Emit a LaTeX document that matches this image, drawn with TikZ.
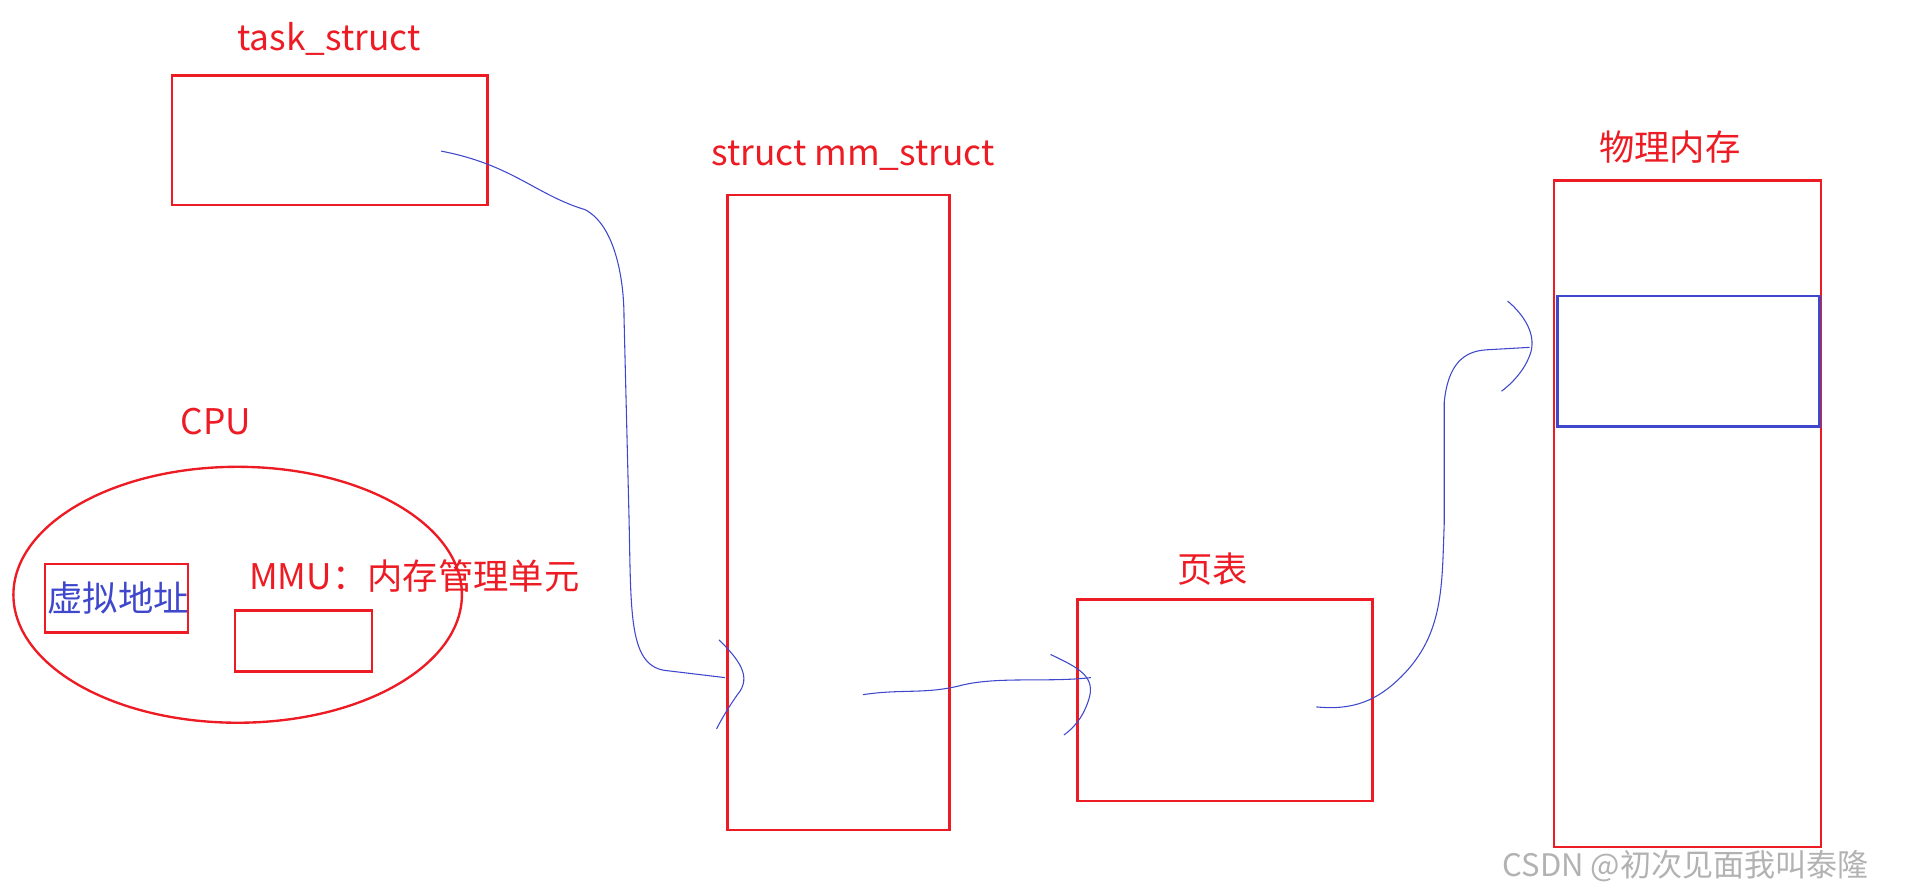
\documentclass[tikz,border=0pt]{standalone}
\usepackage{fontspec}
\setmainfont{Noto Sans CJK SC}
\definecolor{rd}{RGB}{237,28,36}
\definecolor{bl}{RGB}{63,72,204}
\begin{document}
\begin{tikzpicture}[x=0.02cm,y=-0.02cm,
  lbl/.style={text=rd,font=\fontsize{16.5}{18}\selectfont,inner sep=0},
  rbox/.style={draw=rd,line width=1.1pt},
  wire/.style={draw=bl,line width=0.5pt}]
\useasboundingbox (0,0) rectangle (1568,735);
\node[lbl] at (270,32) {task\_struct};
\draw[rbox] (141,62) rectangle (400,168);
\node[lbl] at (700,128) {struct mm\_struct};
\draw[rbox] (597,160) rectangle (779,681);
\node[lbl] at (1370,121) {物理内存};
\draw[rbox] (1275,148) rectangle (1494,695);
\draw[draw=bl,line width=1.1pt] (1278,243) rectangle (1493,350);
\node[lbl] at (177,346) {CPU};
\draw[rbox] (195,488) ellipse [x radius=184, y radius=105];
\draw[rbox] (37,463) rectangle (154,519);
\node[lbl,text=bl] at (97,491) {虚拟地址};
\node[lbl] at (340,473) {MMU：内存管理单元};
\draw[rbox] (193,501) rectangle (305,551);
\node[lbl] at (995,467) {页表};
\draw[rbox] (884,492) rectangle (1126,657);
\node[text=gray!60,font=\fontsize{14.5}{16}\selectfont,inner sep=0] at (1383,711) {CSDN @初次见面我叫泰隆};
\draw[wire] (362,124) .. controls (420,135) and (440,160) .. (480,172) .. controls (505,185) and (512,230) .. (512,260) -- (516,420) .. controls (518,500) and (515,545) .. (545,550) -- (595,556);
\draw[wire] (590,525) .. controls (605,540) and (618,555) .. (605,570) .. controls (598,580) and (592,590) .. (588,598);
\draw[wire] (708,570) .. controls (740,565) and (760,570) .. (790,562) .. controls (820,555) and (860,560) .. (895,556);
\draw[wire] (862,537) .. controls (885,548) and (900,555) .. (893,575) .. controls (888,590) and (880,598) .. (873,603);
\draw[wire] (1080,580) .. controls (1110,583) and (1130,575) .. (1150,555) .. controls (1185,520) and (1183,480) .. (1185,430) -- (1185,330) .. controls (1188,300) and (1200,288) .. (1220,287) -- (1255,285);
\draw[wire] (1237,247) .. controls (1250,258) and (1262,275) .. (1255,292) .. controls (1250,305) and (1240,315) .. (1232,321);
\end{tikzpicture}
\end{document}
